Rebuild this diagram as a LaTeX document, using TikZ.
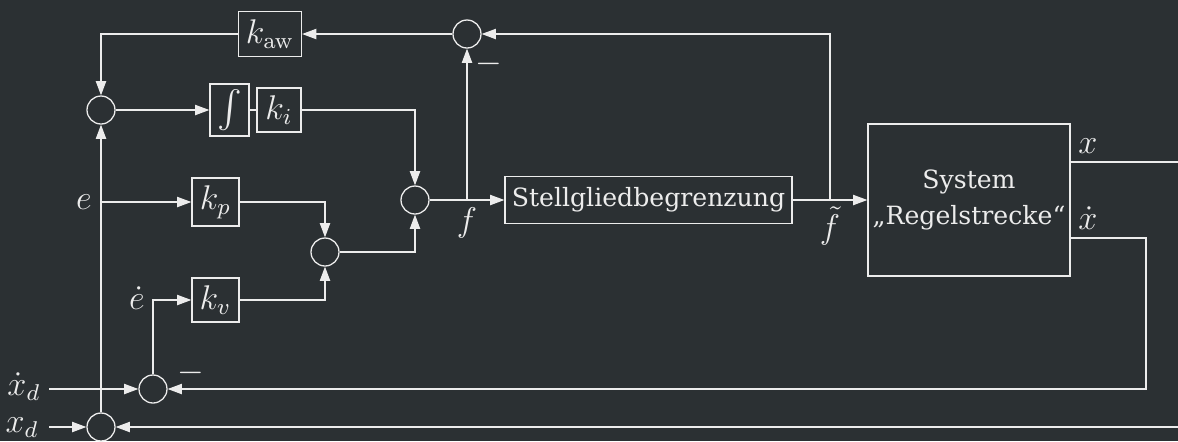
\documentclass[tikz,border=0pt]{standalone}
\usepackage[no-math]{fontspec}
\usepackage{graphicx}
\setmainfont{DejaVu Serif}
\usetikzlibrary{arrows.meta}
\definecolor{bg}{RGB}{43,48,51}
\definecolor{fg}{RGB}{236,236,236}
\begin{document}
\begin{tikzpicture}[x=0.35pt,y=-0.35pt, line width=0.45pt, color=fg,
  font=\fontsize{11.5pt}{14pt}\selectfont,
  sumc/.style={circle,draw=fg,minimum size=9.8pt,inner sep=0pt},
  blk/.style={draw=fg,inner sep=0pt},
  txt/.style={font=\fontsize{8.8pt}{12.5pt}\selectfont},
  arr/.style={-{Triangle[length=5pt,width=3.6pt]}},
  lbl/.style={inner sep=0pt}]
\fill[bg] (0,0) rectangle (1178,441);
\useasboundingbox (0,0) rectangle (1178,441);
% blocks
\node[blk,minimum width=22pt,minimum height=15.75pt] (kaw) at (270,34) {$k_{\mathrm{aw}}$};
\node[sumc] (s1) at (467,34) {};
\node[sumc] (si) at (101,110) {};
\node[blk,minimum width=13.65pt,minimum height=18.2pt] (int) at (229.5,110) {\scalebox{1.3}{$\int$}};
\node[blk,minimum width=15.4pt,minimum height=15.4pt] (ki) at (279,110) {$k_i$};
\node[blk,minimum width=16.45pt,minimum height=16.8pt] (kp) at (215.5,202) {$k_p$};
\node[blk,minimum width=16.45pt,minimum height=15.4pt] (kv) at (215.5,300) {$k_v$};
\node[sumc] (sf) at (415,200) {};
\node[sumc] (sm) at (325,252) {};
\node[blk,txt,minimum width=100.45pt,minimum height=16.45pt] (sg) at (648.5,200) {Stellgliedbegrenzung};
\node[blk,txt,minimum width=70.7pt,minimum height=53.2pt,align=center] (sys) at (969,200) {System\\„Regelstrecke“};
\node[sumc] (sdx) at (153,389) {};
\node[sumc] (sx) at (101,427) {};
% labels
\node[lbl] (le) at (84,202) {$e$};
\node[lbl] (led) at (137,298) {$\dot e$};
\node[lbl] (lxdd) at (24,387) {$\dot x_d$};
\node[lbl] (lxd) at (22,428) {$x_d$};
\node[lbl] (lf) at (467,223) {$f$};
\node[lbl] (lft) at (830,226) {$\tilde f$};
\node[lbl] (lx) at (1088,146) {$x$};
\node[lbl] (lxo) at (1088,218) {$\dot x$};
\node[lbl] (m1) at (489,64) {$-$};
\node[lbl] (m2) at (191,373) {$-$};
% coordinates
\coordinate (j1) at (830,200);
\coordinate (jf) at (467,200);
\coordinate (je) at (101,202);
\coordinate (xdin) at (49,427);
\coordinate (dxdin) at (49,389);
\coordinate (xdo) at (1070,238);
\coordinate (rc) at (1146,389);
\coordinate (xo) at (1070,162);
\coordinate (xe) at (1178,162);
\coordinate (be) at (1178,427);
% connectors
\draw[arr] (sf) -- (sg);
\draw[arr] (sg) -- (sys);
\draw[arr] (j1) |- (s1);
\draw[arr] (s1) -- (kaw);
\draw[arr] (kaw) -| (si);
\draw[arr] (jf) -- (s1);
\draw[arr] (si) -- (int);
\draw (int) -- (ki);
\draw[arr] (ki) -| (sf);
\draw[arr] (je) -- (kp);
\draw[arr] (kp) -| (sm);
\draw[arr] (sm) -| (sf);
\draw[arr] (sdx) |- (kv);
\draw[arr] (kv) -| (sm);
\draw[arr] (dxdin) -- (sdx);
\draw[arr] (xdin) -- (sx);
\draw[arr] (sx) -- (si);
\draw[arr] (xdo) -| (rc) -- (sdx);
\draw (xo) -- (xe);
\draw[arr] (be) -- (sx);
\end{tikzpicture}
\end{document}
